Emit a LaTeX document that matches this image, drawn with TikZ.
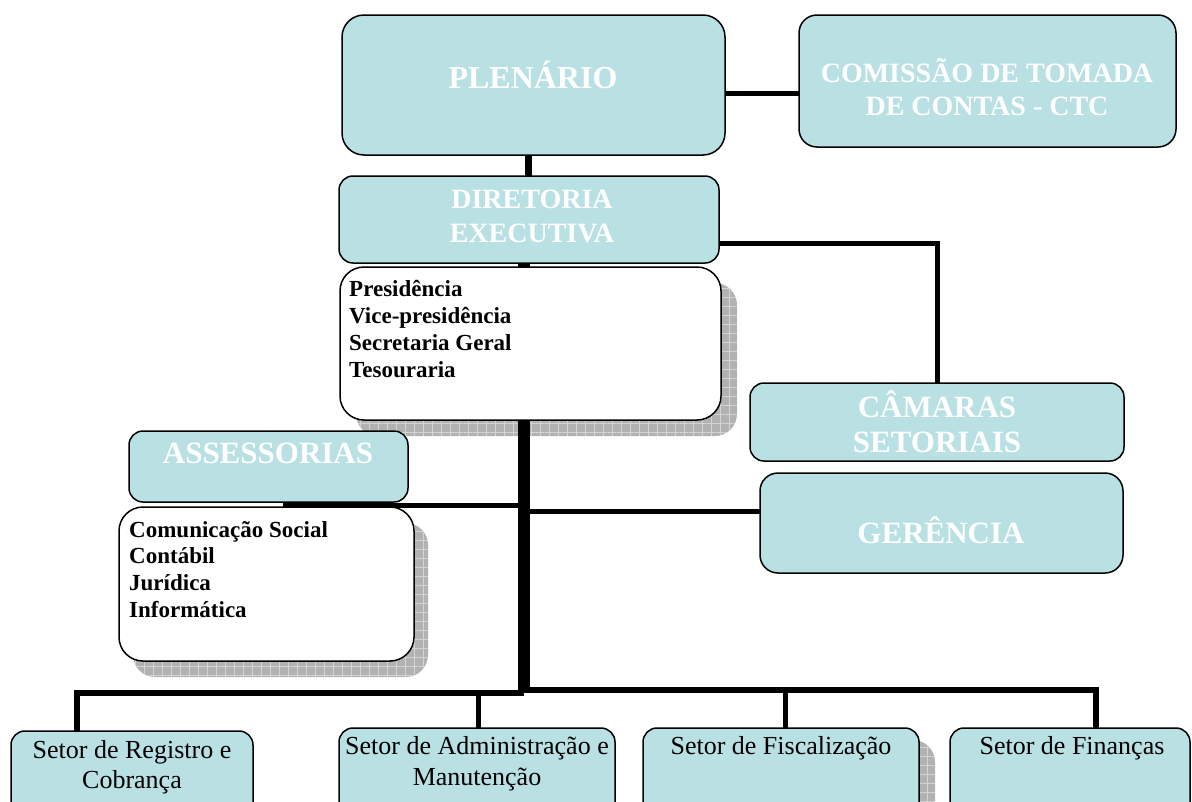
\documentclass[tikz,border=0pt]{standalone}
\usepackage{fontspec}
\setmainfont{Liberation Serif}
\usetikzlibrary{patterns.meta}
\pgfdeclarelayer{bg}
\pgfdeclarelayer{mid}
\pgfsetlayers{bg,mid,main}
\definecolor{tealfill}{RGB}{185,224,227}
\definecolor{shadefill}{RGB}{178,178,178}
\definecolor{shadegrid}{RGB}{212,212,212}
\begin{document}
\begin{tikzpicture}[x=1pt,y=-1pt,
  tbox/.style={draw=black, line width=1.5pt, fill=tealfill, rounded corners=14pt, inner sep=0pt, outer sep=0pt},
  wbox/.style={draw=black, line width=1.5pt, fill=white, rounded corners=24pt, inner sep=0pt, outer sep=0pt},
  hdr/.style={text=white, font=\bfseries\fontsize{31}{35}\selectfont, anchor=base, inner sep=0pt},
  lst/.style={text=black, font=\bfseries\fontsize{23}{27}\selectfont, anchor=base west, inner sep=0pt},
  sec/.style={text=black, font=\fontsize{26}{30}\selectfont, anchor=base, inner sep=0pt},
  conn/.style={draw=black, line width=5pt},
  shadowbase/.style={fill=shadefill, rounded corners=22pt},
  shadowgridh/.style={pattern={Lines[distance=9pt,angle=0,line width=0.8pt]}, pattern color=shadegrid, rounded corners=22pt},
  shadowgridv/.style={pattern={Lines[distance=9pt,angle=90,line width=0.8pt]}, pattern color=shadegrid, rounded corners=22pt}
]
\path[use as bounding box] (0,0) rectangle (1192,801);
\clip (0,0) rectangle (1192,801);

% ---------- boxes ----------
\node[tbox, rounded corners=22pt, minimum width=383pt, minimum height=140pt] (plen) at (533.5,85) {};
\node[tbox, rounded corners=18pt, minimum width=377pt, minimum height=132pt] (ctc) at (987.5,81) {};
\node[tbox, minimum width=380pt, minimum height=87pt] (dir) at (529,219.5) {};
\node[wbox, minimum width=381pt, minimum height=153pt] (pres) at (530.5,343.5) {};
\node[tbox, minimum width=279pt, minimum height=71pt] (assess) at (268.5,466.5) {};
\node[wbox, minimum width=295pt, minimum height=154pt] (asw) at (266.5,584) {};
\node[tbox, minimum width=374pt, minimum height=78pt] (cam) at (937,422) {};
\node[tbox, rounded corners=18pt, minimum width=363pt, minimum height=100pt] (ger) at (941.5,523) {};
\node[tbox, minimum width=242pt, minimum height=90pt] (s1) at (132,776) {};
\node[tbox, minimum width=276pt, minimum height=94pt] (s2) at (477,775) {};
\node[tbox, minimum width=276pt, minimum height=94pt] (s3) at (781,775) {};
\node[tbox, minimum width=240pt, minimum height=94pt] (s4) at (1070,775) {};

% ---------- shadows ----------
\begin{pgfonlayer}{bg}
\clip (0,0) rectangle (1192,801);
\foreach \n/\dx/\dy in {pres/16/16, asw/14/16, s3/16/12} {
  \path[shadowbase] ([shift={(\dx,\dy)}]\n.north west) rectangle ([shift={(\dx,\dy)}]\n.south east);
  \path[shadowgridh] ([shift={(\dx,\dy)}]\n.north west) rectangle ([shift={(\dx,\dy)}]\n.south east);
  \path[shadowgridv] ([shift={(\dx,\dy)}]\n.north west) rectangle ([shift={(\dx,\dy)}]\n.south east);
}
\end{pgfonlayer}

% ---------- connectors under the boxes ----------
\coordinate (pd) at (528,0);
\coordinate (pc) at (0,93);
\coordinate (dc) at (937,243);
\coordinate (jL) at (521,693);
\coordinate (jR) at (527,690);
\coordinate (d1) at (77,693);
\coordinate (d2) at (478,693);
\coordinate (d3) at (785,690);
\coordinate (d4) at (1096,690);
\coordinate (aj) at (283,505);
\coordinate (gj) at (0,511);
\begin{pgfonlayer}{mid}
\draw[conn, line width=7pt] (pd |- plen.south) -- (pd |- dir.north);
\draw[conn] (plen.east |- pc) -- (ctc.west |- pc);
\draw[conn] (dir.east |- dc) -- (dc) -- (dc |- cam.north);
\draw[conn, line width=6pt] (jL |- dir.south) -- (jL) -- (d1) -- (d1 |- s1.north);
\draw[conn, line width=6pt] (jR |- dir.south) -- (jR) -- (d4) -- (d4 |- s4.north);
\draw[conn] (d2) -- (d2 |- s2.north);
\draw[conn] (d3) -- (d3 |- s3.north);
\draw[conn] (jR |- gj) -- (ger.west |- gj);
\end{pgfonlayer}
\draw[conn] (aj) -- (jL |- aj);

% ---------- texts ----------
\node[hdr, font=\bfseries\fontsize{32}{36}\selectfont] (plenT) at (533,88) {PLENÁRIO};
\node[hdr, font=\bfseries\fontsize{28}{32}\selectfont] (ctcT1) at (987,82) {COMISSÃO DE TOMADA};
\node[hdr, font=\bfseries\fontsize{28}{32}\selectfont] (ctcT2) at (987,115) {DE CONTAS - CTC};
\node[hdr, font=\bfseries\fontsize{28}{32}\selectfont] (dirT1) at (532,208) {DIRETORIA};
\node[hdr, font=\bfseries\fontsize{28}{32}\selectfont] (dirT2) at (532,242) {EXECUTIVA};
\node[lst] (presT1) at (349,296) {Presidência};
\node[lst] (presT2) at (349,323) {Vice-presidência};
\node[lst] (presT3) at (349,350) {Secretaria Geral};
\node[lst] (presT4) at (349,377) {Tesouraria};
\node[hdr] (assessT) at (268,463) {ASSESSORIAS};
\node[lst] (aswT1) at (129,537) {Comunicação Social};
\node[lst] (aswT2) at (129,563) {Contábil};
\node[lst] (aswT3) at (129,590) {Jurídica};
\node[lst] (aswT4) at (129,617) {Informática};
\node[hdr] (camT1) at (937,417) {CÂMARAS};
\node[hdr] (camT2) at (937,452) {SETORIAIS};
\node[hdr] (gerT) at (941,543) {GERÊNCIA};
\node[sec] (s1T1) at (132,758) {Setor de Registro e};
\node[sec] (s1T2) at (132,788) {Cobrança};
\node[sec] (s2T1) at (477,754) {Setor de Administração e};
\node[sec] (s2T2) at (477,785) {Manutenção};
\node[sec] (s3T) at (781,754) {Setor de Fiscalização};
\node[sec] (s4T) at (1072,754) {Setor de Finanças};
\end{tikzpicture}
\end{document}
